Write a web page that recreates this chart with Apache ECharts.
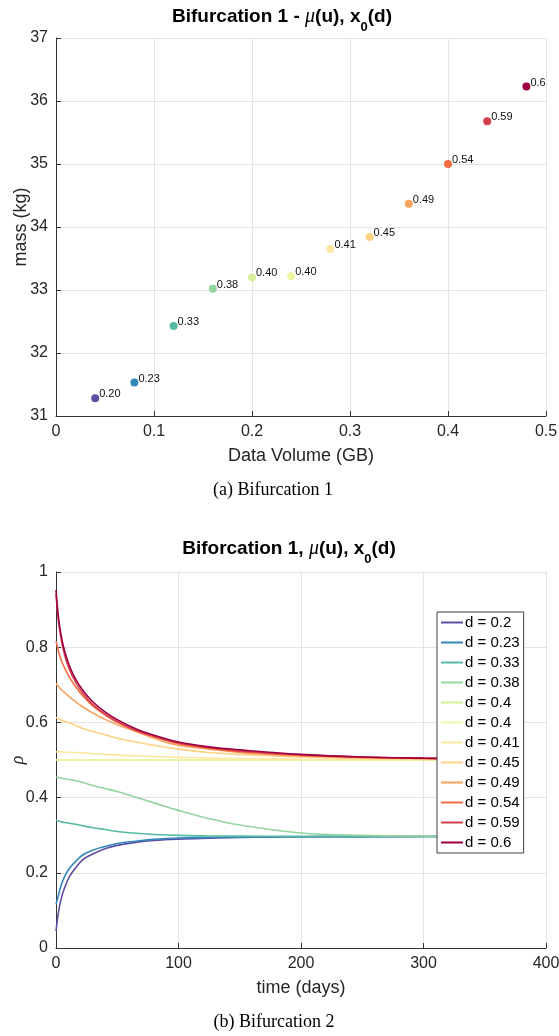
<!DOCTYPE html>
<html><head><meta charset="utf-8">
<script src="https://cdn.jsdelivr.net/npm/echarts@6/dist/echarts.min.js"></script>
<style>html,body{margin:0;padding:0;background:#fff}#c{width:559px;height:1036px}</style>
</head><body><div id="c"></div>
<script>
// ---- Panel (a): scatter ----
const volumes = [0.04, 0.08, 0.12, 0.16, 0.20, 0.24, 0.28, 0.32, 0.36, 0.40, 0.44, 0.48];
const masses  = [31.28, 31.53, 32.43, 33.02, 33.20, 33.22, 33.65, 33.84, 34.37, 35.00, 35.68, 36.23];
const dLabels = ['0.20', '0.23', '0.33', '0.38', '0.40', '0.40', '0.41', '0.45', '0.49', '0.54', '0.59', '0.6'];

// ---- Panel (b): trajectories ----
const legendNames = ['d = 0.2', 'd = 0.23', 'd = 0.33', 'd = 0.38', 'd = 0.4', 'd = 0.4 ', 'd = 0.41', 'd = 0.45', 'd = 0.49', 'd = 0.54', 'd = 0.59', 'd = 0.6'];
const time = [0, 2, 4, 7, 11, 16, 22, 30, 40, 50, 65, 80, 100, 125, 150, 200, 250, 300, 350];
const rho_020 = [0.045, 0.095, 0.128, 0.16, 0.19, 0.213, 0.235, 0.25, 0.264, 0.273, 0.281, 0.286, 0.2895, 0.292, 0.294, 0.2958, 0.2962, 0.2964, 0.2965];
const rho_023 = [0.116, 0.14, 0.165, 0.19, 0.212, 0.23, 0.248, 0.26, 0.27, 0.278, 0.284, 0.289, 0.2925, 0.294, 0.295, 0.296, 0.2963, 0.2965, 0.2965];
const rho_033 = [0.34, 0.338, 0.336, 0.334, 0.332, 0.329, 0.325, 0.32, 0.315, 0.31, 0.305, 0.302, 0.2995, 0.298, 0.2975, 0.297, 0.2967, 0.2965, 0.2965];
const rho_038 = [0.454, 0.453, 0.452, 0.45, 0.448, 0.445, 0.44, 0.432, 0.424, 0.416, 0.401, 0.386, 0.366, 0.344, 0.327, 0.306, 0.2995, 0.2976, 0.2972];
const rho_040a = [0.5, 0.5, 0.5, 0.5, 0.5, 0.5, 0.5, 0.5, 0.5, 0.5, 0.5, 0.5, 0.5, 0.5, 0.5, 0.5, 0.5, 0.5, 0.5];
const rho_040b = [0.5, 0.5, 0.5, 0.5, 0.5, 0.5, 0.5, 0.5, 0.5, 0.5, 0.5, 0.5, 0.5, 0.5, 0.5, 0.5, 0.5, 0.5, 0.5];
const rho_041 = [0.522, 0.5218, 0.5215, 0.521, 0.5205, 0.52, 0.519, 0.517, 0.515, 0.513, 0.511, 0.509, 0.507, 0.505, 0.504, 0.502, 0.501, 0.5007, 0.5005];
const rho_045 = [0.613, 0.61, 0.607, 0.603, 0.599, 0.592, 0.584, 0.576, 0.567, 0.558, 0.548, 0.539, 0.529, 0.52, 0.515, 0.508, 0.504, 0.502, 0.501];
const rho_049 = [0.703, 0.696, 0.688, 0.679, 0.668, 0.655, 0.641, 0.625, 0.608, 0.594, 0.576, 0.558, 0.539, 0.529, 0.52, 0.511, 0.506, 0.504, 0.502];
const rho_054 = [0.816, 0.79, 0.768, 0.745, 0.72, 0.695, 0.67, 0.644, 0.62, 0.6, 0.578, 0.562, 0.543, 0.531, 0.522, 0.512, 0.507, 0.504, 0.503];
const rho_059 = [0.94, 0.87, 0.825, 0.78, 0.74, 0.707, 0.677, 0.648, 0.622, 0.602, 0.579, 0.563, 0.545, 0.533, 0.524, 0.514, 0.508, 0.505, 0.503];
const rho_060 = [0.952, 0.88, 0.835, 0.79, 0.75, 0.715, 0.685, 0.655, 0.628, 0.607, 0.583, 0.566, 0.548, 0.535, 0.527, 0.515, 0.508, 0.505, 0.503];
const rhoSeries = [rho_020, rho_023, rho_033, rho_038, rho_040a, rho_040b, rho_041, rho_045, rho_049, rho_054, rho_059, rho_060];

// styles
const palette = ['#5e4fa2', '#3288bd', '#56b9a3', '#93d49d', '#d6ee9a', '#eef4a4', '#fce8a0', '#fdd283', '#fba25c', '#f46d43', '#d53e4f', '#9e0142'];
const FONT = '"Liberation Sans", Arial, Helvetica, sans-serif';
const AX = '#333333';
const GRIDC = '#e3e3e3';

function valueAxis(gridIndex, min, max, interval, name, gap, nameStyle) {
  return {
    type: 'value', gridIndex, min, max, interval,
    name, nameLocation: 'middle', nameGap: gap, nameMoveOverlap: false,
    nameTextStyle: Object.assign({ fontFamily: FONT, fontSize: 18, color: '#262626' }, nameStyle || {}),
    axisLine: { show: true, lineStyle: { color: AX, width: 1 } },
    axisTick: { show: true, inside: true, length: 5, lineStyle: { color: AX } },
    axisLabel: { fontFamily: FONT, fontSize: 16, color: '#262626', margin: 8 },
    splitLine: { show: true, lineStyle: { color: GRIDC, width: 1 } }
  };
}

const chart = echarts.init(document.getElementById('c'), null, { renderer: 'canvas' });

const lineSeries = rhoSeries.map((arr, i) => ({
  type: 'line', name: legendNames[i], xAxisIndex: 1, yAxisIndex: 1,
  data: time.map((t, k) => [t, arr[k]]),
  symbol: 'none', smooth: 0.4,
  lineStyle: { color: palette[i], width: 1.6 },
  itemStyle: { color: palette[i] },
  z: 2 + i
}));

const option = {
  animation: false,
  backgroundColor: '#fff',
  grid: [
    { left: 56, right: 13, top: 38, height: 378, outerBoundsMode: 'none', containLabel: false },
    { left: 56, right: 13, top: 572, height: 376, outerBoundsMode: 'none', containLabel: false }
  ],
  xAxis: [
    valueAxis(0, 0, 0.5, 0.1, 'Data Volume (GB)', 31),
    valueAxis(1, 0, 400, 100, 'time (days)', 31)
  ],
  yAxis: [
    valueAxis(0, 31, 37, 1, 'mass (kg)', 26),
    valueAxis(1, 0, 1, 0.2, 'ρ', 29, { fontFamily: '"Liberation Serif", "DejaVu Serif", serif', fontStyle: 'italic', fontSize: 18 })
  ],
  legend: {
    data: legendNames,
    orient: 'vertical', left: 437, top: 612, z: 50,
    backgroundColor: '#fff', borderColor: '#404040', borderWidth: 1,
    padding: [3, 4, 3, 4], itemGap: 5, itemWidth: 22, itemHeight: 2,
    icon: 'rect',
    textStyle: { fontFamily: FONT, fontSize: 15, color: '#000', lineHeight: 15, padding: [0, 0, 0, -3] },
    formatter: n => n.trim(),
    selectedMode: false
  },
  series: [{
    type: 'scatter', xAxisIndex: 0, yAxisIndex: 0, symbolSize: 8,
    data: volumes.map((v, i) => ({ value: [v, masses[i]], itemStyle: { color: palette[i], opacity: 1 } })),
    itemStyle: { opacity: 1 },
    label: {
      show: true, position: 'right', distance: 0, offset: [0, -4],
      formatter: p => dLabels[p.dataIndex],
      fontFamily: FONT, fontSize: 11, color: '#111'
    }
  }].concat(lineSeries),
  graphic: [
    { type: 'text', x: 282, y: 17, z: 100, style: {
      text: 'Bifurcation 1 - {mu|μ}(u), x{sub|0}(d)', align: 'center', verticalAlign: 'middle',
      fontFamily: FONT, fontSize: 19, fontWeight: 'bold', fill: '#000', lineHeight: 34,
      rich: {
        mu: { fontFamily: '"Liberation Serif", "DejaVu Serif", serif', fontStyle: 'italic', fontWeight: 'normal', fontSize: 20, fill: '#000' },
        sub: { fontFamily: FONT, fontSize: 13, fontWeight: 'bold', verticalAlign: 'bottom', lineHeight: 13, fill: '#000' }
      } } },
    { type: 'text', x: 289, y: 549, z: 100, style: {
      text: 'Biforcation 1, {mu|μ}(u), x{sub|0}(d)', align: 'center', verticalAlign: 'middle',
      fontFamily: FONT, fontSize: 19, fontWeight: 'bold', fill: '#000', lineHeight: 34,
      rich: {
        mu: { fontFamily: '"Liberation Serif", "DejaVu Serif", serif', fontStyle: 'italic', fontWeight: 'normal', fontSize: 20, fill: '#000' },
        sub: { fontFamily: FONT, fontSize: 13, fontWeight: 'bold', verticalAlign: 'bottom', lineHeight: 13, fill: '#000' }
      } } },
    { type: 'text', x: 273, y: 490, style: { text: '(a) Bifurcation 1', align: 'center', verticalAlign: 'middle',
      fontFamily: '"Liberation Serif", "Times New Roman", serif', fontSize: 18, fill: '#000' } },
    { type: 'text', x: 274, y: 1022, style: { text: '(b) Bifurcation 2', align: 'center', verticalAlign: 'middle',
      fontFamily: '"Liberation Serif", "Times New Roman", serif', fontSize: 18, fill: '#000' } }
  ]
};
chart.setOption(option);
</script>
</body></html>
